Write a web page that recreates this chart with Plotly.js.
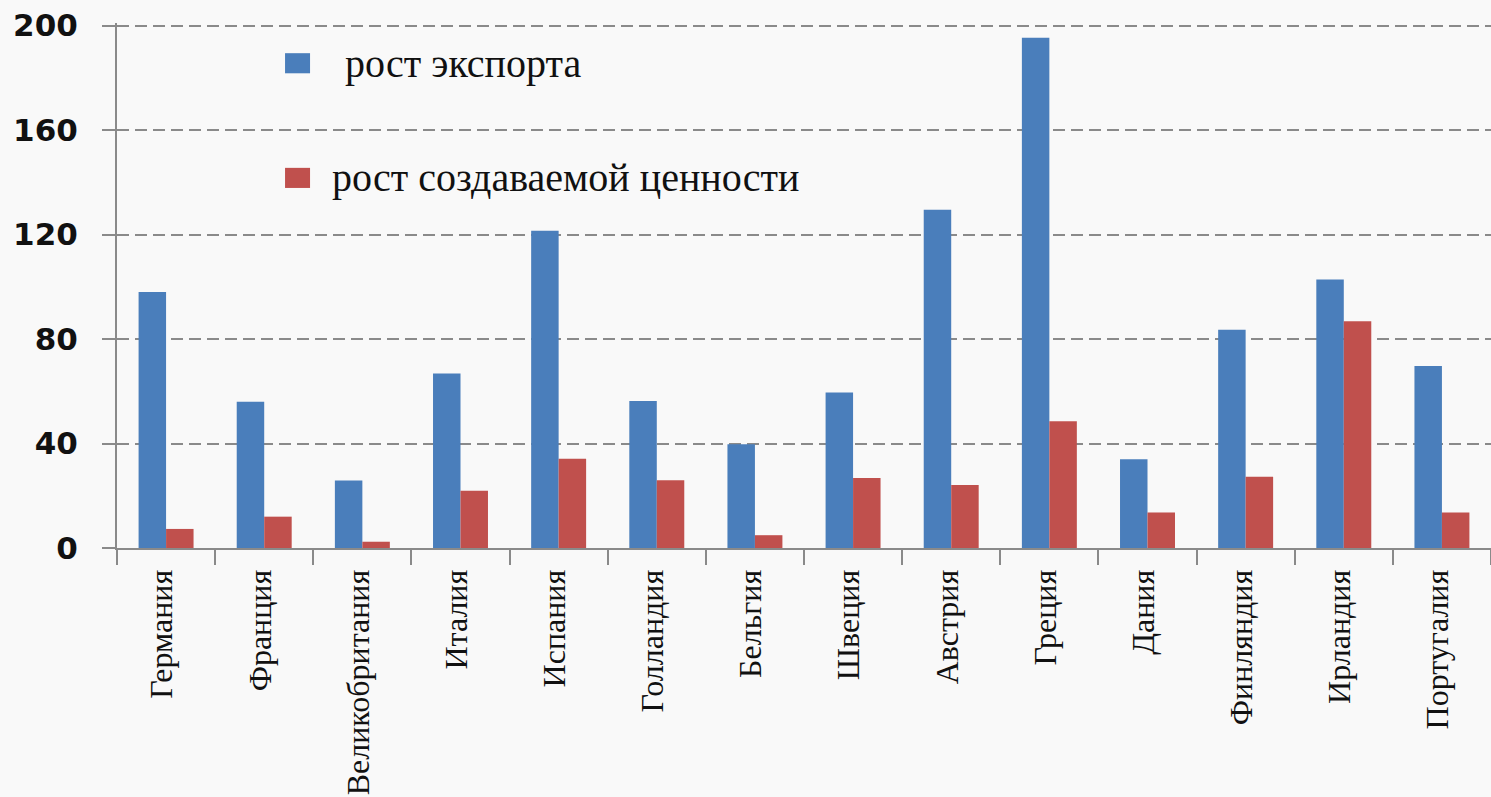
<!DOCTYPE html>
<html>
<head>
<meta charset="utf-8">
<script src="https://cdn.plot.ly/plotly-3.0.1.min.js"></script>
<style>
  html, body { margin: 0; padding: 0; background: #f9f9f9; }
  #chart { width: 1491px; height: 797px; }
</style>
</head>
<body>
<div id="chart"></div>
<script>
const categories = ["Германия", "Франция", "Великобритания", "Италия", "Испания", "Голландия", "Бельгия", "Швеция", "Австрия", "Греция", "Дания", "Финляндия", "Ирландия", "Португалия"];
const exportGrowth = [98, 56, 25.8, 66.8, 121.5, 56.3, 39.7, 59.5, 129.5, 195.4, 34, 83.6, 102.8, 69.7];
const valueGrowth = [7.3, 12, 2.4, 21.9, 34.2, 25.9, 4.9, 26.8, 24.1, 48.5, 13.6, 27.3, 86.8, 13.6];
const seriesNames = ["рост экспорта", "рост создаваемой ценности"];
const yTicks = [0, 40, 80, 120, 160, 200];

const blue = "#4a7ebb";
const red = "#c0504d";
const grey = "#8a8a8a";
const serif = "Liberation Serif, serif";

const traces = [
  { type: "bar", name: seriesNames[0], x: categories, y: exportGrowth, marker: { color: blue }, showlegend: false, hoverinfo: "x+y" },
  { type: "bar", name: seriesNames[1], x: categories, y: valueGrowth, marker: { color: red }, showlegend: false, hoverinfo: "x+y" }
];

const layout = {
  width: 1491,
  height: 797,
  margin: { l: 117, r: 0, t: 23, b: 249 },
  paper_bgcolor: "#f9f9f9",
  plot_bgcolor: "#f9f9f9",
  barmode: "group",
  bargap: 0.44,
  bargroupgap: 0,
  showlegend: false,
  xaxis: {
    type: "category",
    showline: true,
    linecolor: grey,
    linewidth: 2,
    ticks: "outside",
    tickson: "boundaries",
    ticklen: 15,
    tickwidth: 2,
    tickcolor: grey,
    tickangle: -90,
    ticklabelstandoff: 7,
    ticklabelshift: -4,
    tickfont: { family: serif, size: 32, color: "#111" },
    showgrid: false,
    zeroline: false
  },
  yaxis: {
    range: [0, 201],
    tickvals: yTicks,
    ticktext: yTicks.map(String),
    showline: true,
    linecolor: grey,
    linewidth: 2,
    ticks: "outside",
    ticklen: 13,
    tickwidth: 2,
    tickcolor: grey,
    ticklabelstandoff: 18,
    tickfont: { family: "DejaVu Sans", size: 31, color: "#111", weight: "bold" },
    showgrid: true,
    gridcolor: grey,
    gridwidth: 2,
    griddash: "12px,6px",
    zeroline: false
  },
  shapes: [
    { type: "rect", xref: "paper", yref: "paper", x0: 0.1223, x1: 0.1405, y0: 0.9042, y1: 0.9425, fillcolor: blue, line: { width: 0 } },
    { type: "rect", xref: "paper", yref: "paper", x0: 0.1223, x1: 0.1405, y0: 0.6858, y1: 0.7241, fillcolor: red, line: { width: 0 } }
  ],
  annotations: [
    { xref: "paper", yref: "paper", x: 0.1645, y: 0.9234, xanchor: "left", yanchor: "middle", showarrow: false, text: seriesNames[0], font: { family: serif, size: 40, color: "#111" } },
    { xref: "paper", yref: "paper", x: 0.155, y: 0.705, xanchor: "left", yanchor: "middle", showarrow: false, text: seriesNames[1], font: { family: serif, size: 40, color: "#111" } }
  ]
};

Plotly.newPlot("chart", traces, layout, { displayModeBar: false, staticPlot: true });
</script>
</body>
</html>
